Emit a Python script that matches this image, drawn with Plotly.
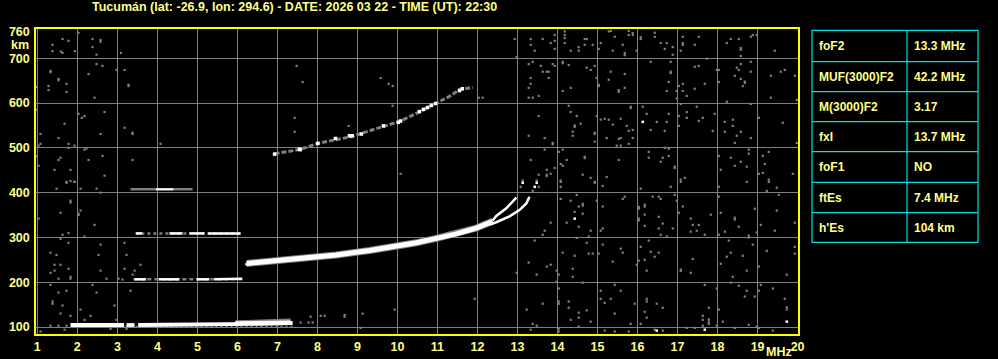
import plotly.graph_objects as go

TITLE = "Tucumán (lat: -26.9, lon: 294.6) - DATE: 2026 03 22 - TIME (UT): 22:30"
x_ticks = list(range(1, 21))
y_ticks = [100, 200, 300, 400, 500, 600, 700, 760]
y_grid = [100, 200, 300, 400, 500, 600, 700]

table_labels = ["foF2", "MUF(3000)F2", "M(3000)F2", "fxI", "foF1", "ftEs", "h'Es"]
table_values = ["13.3 MHz", "42.2 MHz", "3.17", "13.7 MHz", "NO", "7.4 MHz", "104 km"]

# Es layer traces (segments separated by None)
es1_f = [1.83, 3.17, None, 3.23, 3.43, None, 3.52, 5.90, 6.6, 7.38]
es1_h = [104.5, 104.5, None, 104.5, 104.5, None, 104.5, 105, 107, 109]
es1_fringe_f = [5.95, 6.5, 7.0, 7.33]
es1_fringe_h = [111, 112, 113, 115]
es2_f = [3.43, 3.72, None, 4.03, 4.55, None, 4.98, 5.30, None, 5.42, 6.12]
es2_h = [206.5, 206.5, None, 206.5, 206.5, None, 206.5, 206.5, None, 206.5, 207.5]
es3_f = [3.47, 3.62, None, 4.30, 4.63, None, 4.80, 5.18, None, 5.27, 6.08]
es3_h = [309, 309, None, 309, 309, None, 309, 309, None, 309, 309]
es4_f = [3.97, 4.40]
es4_h = [407.5, 407.5]
es4_gray_f = [3.33, 4.88]
es4_gray_h = [407.5, 407.5]

# F2 trace
f2_f = [6.23, 6.6, 7.22, 7.8, 8.47, 9.30, 9.97, 10.47, 10.97, 11.47, 11.97, 12.38]
f2_h = [242, 245, 250, 255, 261, 271, 280, 288, 298, 308, 321, 336]
f2o_f = [12.38, 12.47, 12.72, 12.88, 12.97]
f2o_h = [338, 348, 365, 379, 389]
f2x_f = [12.30, 12.47, 12.80, 13.05, 13.22, 13.30]
f2x_h = [329, 334, 347, 361, 376, 391]

# second-hop F trace
f2b_f = [6.93, 7.55, 8.01, 8.47, 8.84, 9.30, 9.63, 10.05, 10.43, 10.80, 11.05, 11.30, 11.55, 11.72, 11.88]
f2b_h = [487, 496, 510, 519, 525, 538, 548, 559, 575, 592, 603, 615, 630, 633, 635]
f2b_white_f = [6.93, 7.55, 7.57, 8.01, 8.45, 8.80, 8.84, 8.87, 9.10, 9.65, 10.02, 10.08, 10.55, 10.65, 10.75, 10.85, 10.95, 11.55, 11.62]
f2b_white_h = [486, 497, 496, 510, 521, 527, 527, 527, 531, 549, 557, 560, 581, 586, 590, 595, 599, 628, 632]

noise_gray = [
    (2.03,757),(1.38,730),(1.63,743),(1.78,739),(1.38,716),(1.59,715),(1.63,712),(1.94,716),(2.38,743),(2.58,741),
    (2.58,737),(2.38,725),(2.48,708),(3.09,712),(2.48,687),(2.63,683),(2.28,665),(2.98,674),(3.18,674),(1.33,672),
    (1.33,669),(1.53,654),(1.53,651),(1.28,638),(1.28,629),(1.73,643),(1.73,625),(0.98,636),(3.28,641),(3.28,638),
    (2.43,612),(2.68,580),(2.03,576),(2.11,567),(2.18,571),(1.68,554),(1.08,531),(1.53,522),(2.58,531),(3.18,545),
    (3.38,534),(3.38,531),(4.08,509),(1.08,509),(1.03,505),(1.78,509),(1.78,500),(1.93,505),(2.23,499),(2.18,496),
    (0.98,481),(1.58,478),(1.53,473),(1.03,460),(2.28,473),(2.63,482),(3.38,473),(1.43,451),(1.83,451),(2.68,438),
    (1.73,424),(1.83,426),(1.93,424),(0.98,585),(7.48,683),(7.63,647),(7.43,567),(7.43,536),(8.78,549),(9.58,656),
    (9.78,643),(9.88,638),(9.88,594),(10.08,442),(12.03,612),(12.13,612),
    (12.93,743),(12.98,703),(13.33,743),(13.63,743),(13.93,752),(14.18,760),(14.18,752),(14.18,745),(13.93,739),(13.83,734),
    (13.33,730),(13.43,717),(13.93,721),(14.18,734),(14.33,717),(14.53,725),(14.53,717),(14.68,743),(14.73,743),(14.68,730),
    (14.88,730),(15.03,721),(15.08,734),(15.28,760),(15.33,761),(15.43,748),(15.63,730),(15.68,712),(15.68,707),(15.38,717),
    (15.78,761),(15.78,752),(15.88,756),(15.88,752),(15.98,717),(16.08,747),(16.08,743),(16.43,757),(16.43,748),(16.58,734),(16.68,721),
    (16.73,734),(16.88,725),(16.88,708),(17.13,748),(17.13,734),(17.13,730),(17.43,730),(17.53,748),(17.08,717),(18.23,734),
    (18.33,743),(18.53,743),(18.58,723),(18.58,719),(18.58,705),(18.83,748),(18.88,752),(18.98,752),(19.43,717),(13.28,687),
    (13.38,692),(13.58,683),(13.63,670),(13.73,670),(13.78,670),(13.78,656),(13.88,687),(13.93,683),(13.33,656),(13.33,643),
    (13.28,634),(13.53,616),(13.38,612),(13.28,612),(14.13,692),(14.13,689),(14.28,685),(14.13,627),(14.33,634),(14.73,679),
    (14.83,674),(14.93,683),(14.98,656),(15.03,641),(15.03,638),(15.28,652),(15.33,670),(15.53,629),(15.53,625),(15.68,665),(15.68,634),
    (16.33,692),(16.83,692),(16.83,667),(16.83,670),(16.78,647),(16.73,627),(16.98,627),(16.98,610),(17.03,638),(17.13,643),(17.13,627),
    (17.23,616),(17.43,681),(17.53,683),(17.43,632),(17.68,643),(17.73,699),(17.98,674),(18.03,674),(18.03,647),(18.23,603),
    (18.43,661),(18.48,679),(18.53,674),(18.58,687),(18.58,654),(18.68,645),(18.68,648),(18.63,638),(18.83,692),(18.83,670),(19.33,661),
    (19.33,612),(19.58,670),(19.68,674),(19.93,661),(19.98,607),(18.83,598),(13.53,571),(13.28,527),(13.68,522),(13.88,511),
    (13.88,508),(14.28,594),(14.33,580),(14.48,571),(14.58,554),(14.43,547),(14.43,550),(14.38,536),(14.38,527),(14.93,534),(14.93,531),(14.93,514),
    (14.98,571),(15.08,563),(15.18,565),(15.28,563),(15.38,552),(15.58,565),(15.73,549),(15.78,538),(15.88,540),(15.83,592),
    (15.83,589),(15.23,522),(15.53,520),(15.58,522),(15.88,522),(15.78,509),(15.48,505),(15.58,505),(16.13,592),(16.23,576),
    (16.33,540),(16.48,558),(16.68,538),(16.73,558),(16.78,576),(17.03,571),(17.03,549),(17.08,598),(17.23,580),(17.23,567),
    (17.48,592),(17.53,560),(17.63,567),(17.88,538),(17.93,576),(18.18,558),(18.18,536),(18.38,563),(18.38,549),(18.48,527),
    (18.58,536),(18.83,522),(18.43,511),(19.03,567),(19.63,556),(19.98,511),(13.68,496),(13.33,473),(14.13,496),(14.03,491),
    (14.08,464),(14.13,460),(14.23,473),(14.68,480),(14.68,477),(13.93,455),(13.73,451),(13.83,442),(13.53,440),(13.73,440),(13.73,437),
    (13.13,427),(13.48,427),(14.08,427),(14.63,440),(14.83,433),(14.93,424),(15.23,435),(15.53,473),(16.28,491),(16.28,478),
    (16.63,478),(16.68,500),(16.78,498),(16.78,482),(16.58,469),(16.93,458),(16.93,455),(17.08,429),(17.18,433),(18.03,482),(18.33,478),
    (18.08,451),(18.43,460),(18.58,469),(18.78,496),(18.78,487),(18.73,458),(19.13,482),(19.28,491),(19.18,464),(19.13,444),
    (19.03,442),(19.28,429),(19.88,442),
    (1.73,422),(1.93,424),(1.48,409),(2.08,409),(2.48,409),(2.58,400),(1.83,382),(1.83,378),(1.58,355),(2.03,353),
    (2.03,350),(2.08,360),(1.03,342),(2.43,328),(1.78,310),(1.63,306),(2.18,302),(1.58,297),(1.78,288),(2.58,284),(3.18,288),
    (1.33,266),(1.48,261),(2.53,261),(3.23,261),(1.43,239),(1.58,239),(1.78,230),(1.43,226),(1.33,221),(2.58,226),
    (3.18,230),(3.43,226),(3.58,239),(1.83,212),(1.83,208),(1.53,208),(2.73,208),(3.03,208),(3.13,206),(3.38,217),(1.33,194),
    (1.73,181),(1.53,177),(2.38,194),(2.48,177),(3.33,181),(1.38,157),(1.38,152),(1.63,148),(2.08,139),(2.93,148),(1.58,130),
    (1.83,125),(2.18,116),(2.33,125),(2.98,116),(1.33,103),(1.53,103),(1.73,103),(1.08,90),(1.68,94),(3.23,96),
    (2.83,96),(9.93,139),(9.13,130),(8.68,127),(8.68,123),(8.18,125),(8.08,125),(7.83,123),(7.78,110),(7.88,110),(7.58,110),
    (9.08,98),
    (14.08,424),(14.08,413),(15.13,415),(14.93,422),(16.08,409),(16.83,413),(17.08,424),(18.03,413),(18.73,424),(19.28,424),
    (19.48,411),(19.23,404),(19.53,395),(14.08,386),(14.33,382),(14.48,395),(14.63,375),(14.63,371),(14.53,369),(14.43,357),(14.63,353),
    (14.23,333),(14.98,382),(15.13,369),(15.68,391),(15.63,386),(16.03,368),(16.03,364),(16.18,373),(16.18,369),(16.38,391),(16.58,386),
    (16.53,391),(16.93,395),(16.98,382),(17.13,369),(17.03,355),(16.18,351),(16.03,342),(16.03,338),(16.18,326),(16.53,346),
    (16.63,331),(16.88,320),(16.53,320),(16.58,306),(16.73,302),(17.33,342),(17.38,328),(17.53,328),(17.33,313),(17.48,315),
    (17.68,306),(17.83,351),(18.03,391),(18.08,355),(18.03,306),(18.18,313),(18.43,344),(18.43,340),(18.53,324),(18.93,364),(19.08,328),
    (19.48,360),(19.43,315),(19.93,333),(18.98,311),(18.78,304),(18.78,300),(13.83,333),(13.68,315),(13.63,306),(13.43,293),(13.28,244),
    (12.98,221),(13.73,235),(13.83,239),(13.48,217),(13.98,226),(14.03,217),(14.13,266),(14.43,259),(14.38,230),(14.38,212),
    (14.48,299),(14.53,324),(14.73,288),(14.78,302),(14.83,315),(15.08,315),(15.13,320),(14.78,264),(14.88,264),(15.03,264),
    (15.13,284),(15.58,275),(15.63,266),(15.38,246),(16.03,248),(16.18,250),(15.98,239),(16.08,279),(16.28,293),(16.33,268),
    (16.43,257),(16.53,266),(16.23,226),(17.38,252),(17.08,228),(17.08,225),(17.33,221),(18.08,241),(18.23,257),(18.33,266),(18.28,293),
    (18.63,259),(18.73,226),(19.23,270),(19.03,235),(18.88,284),(19.93,279),(19.93,264),(19.73,217),(18.38,212),(14.03,186),
    (13.98,201),(14.63,199),(15.08,181),(15.33,163),(15.18,154),(15.08,163),(15.43,194),(15.58,181),(16.23,163),(16.23,157),
    (16.48,152),(16.63,143),(15.93,152),(15.43,130),(14.03,157),(14.03,152),(14.28,157),(14.28,143),(14.53,132),(14.53,121),(14.73,137),
    (14.33,116),(14.83,112),(14.53,101),(13.23,139),(13.38,107),(13.48,103),(13.33,94),(13.63,152),(11.93,163),(14.03,96),(14.03,90),
    (15.18,92),(15.43,90),(15.78,90),(15.83,107),(16.08,107),(16.23,121),(16.18,134),(16.43,94),(16.63,92),(17.23,98),
    (17.43,98),(17.63,103),(17.63,125),(17.63,116),(17.78,143),(17.78,117),(17.78,112),(17.78,107),(17.98,103),(18.03,139),(18.13,112),
    (18.43,98),(18.78,105),(18.98,101),(19.03,98),(19.38,92),(19.73,144),(19.73,139),(19.68,163),(18.93,168),(19.03,181),(19.08,194),
    (19.38,186),(18.73,181),(18.68,168),(18.53,192),(18.33,199),(17.68,194),(17.98,186),(13.08,413),(13.53,413),(13.38,404),
]
noise_white = [(16.13,558),(14.43,342),(16.48,92),(17.68,94),(19.73,112),(13.13,422),(13.48,422),(13.43,413),(6.23,240)]

TXT = "#ffff88"
YEL = "#ffff00"
GRID = "#808080"
GRAY = "#808080"
CYAN = "#00e0e0"
FONT = "Liberation Sans"

fig = go.Figure()

def add_line(fx, hy, color, width, dash=None):
    fig.add_trace(go.Scatter(x=fx, y=hy, mode="lines", connectgaps=False,
                             line=dict(color=color, width=width, dash=dash),
                             hoverinfo="skip", showlegend=False))

def add_pts(pts, color, size):
    fig.add_trace(go.Scatter(x=[p[0] for p in pts], y=[p[1] for p in pts], mode="markers",
                             marker=dict(symbol="square", size=size, color=color, line=dict(width=0)),
                             hoverinfo="skip", showlegend=False))

add_pts(noise_gray, GRAY, 2.2)

# Es traces
add_line([1.83, 7.4], [101, 101], GRAY, 1.5, "2px,3px")
add_line(es1_fringe_f, es1_fringe_h, GRAY, 3.5)
add_line(es1_f, es1_h, "white", 3.8)
add_line([es1_fringe_f[0], es1_fringe_f[-1]], [110, 112], "white", 2.5)
add_line([3.40, 6.20], [206.5, 206.5], GRAY, 2.5, "4px,3px")
add_line(es2_f, es2_h, "white", 2.5)
add_line([3.45, 6.10], [309, 309], GRAY, 2.5, "3px,3px")
add_line(es3_f, es3_h, "white", 2.5)
add_line(es4_gray_f, es4_gray_h, GRAY, 2.5)
add_line(es4_f, es4_h, "white", 2)

# F traces
add_line(f2_f, f2_h, GRAY, 7)
add_line(f2_f, f2_h, "white", 5)
add_line(f2o_f, f2o_h, "white", 2.5)
add_line(f2x_f, f2x_h, "white", 2.5)
add_line(f2b_f, f2b_h, GRAY, 3, "5px,2px")
add_pts(list(zip(f2b_white_f, f2b_white_h)), "white", 3.5)
add_pts(noise_white, "white", 2.5)

fig.update_layout(
    width=998, height=359,
    margin=dict(l=36, r=200, t=29, b=25, autoexpand=False),
    paper_bgcolor="black", plot_bgcolor="black",
    font=dict(family=FONT, color=TXT, size=12, weight="bold"),
    showlegend=False,
)
fig.update_xaxes(
    range=[0.967, 20.01], tickvals=x_ticks, ticktext=[str(v) for v in x_ticks],
    showgrid=True, gridcolor=GRID, gridwidth=1, zeroline=False, automargin=False,
    showline=True, linecolor=YEL, linewidth=1.5, mirror=True,
    ticks="",
    tickfont=dict(family=FONT, color=TXT, size=12.5, weight="bold"),
)
fig.update_yaxes(
    range=[84.4, 765.4], tickvals=y_ticks, ticktext=[str(v) for v in y_ticks],
    showgrid=False, zeroline=False, automargin=False,
    minor=dict(tickvals=y_grid, showgrid=True, gridcolor=GRID, gridwidth=1, ticklen=0),
    showline=True, linecolor=YEL, linewidth=1.5, mirror=True,
    ticks="outside", ticklen=2, tickcolor="black",
    tickfont=dict(family=FONT, color=TXT, size=12.5, weight="bold"),
)

# title
fig.add_annotation(text=TITLE, xref="paper", yref="paper", x=0.339, y=1.073,
                   xanchor="center", yanchor="middle", showarrow=False,
                   font=dict(family=FONT, color=TXT, size=12.5, weight="bold"))
# km label
fig.add_annotation(text="km", xref="paper", yref="y", x=-0.021, y=729,
                   xanchor="center", yanchor="middle", showarrow=False,
                   font=dict(family=FONT, color=TXT, size=12.5, weight="bold"))
# MHz label
fig.add_annotation(text="MHz", xref="x", yref="paper", x=19.53, y=-0.06,
                   xanchor="center", yanchor="middle", showarrow=False,
                   font=dict(family=FONT, color=TXT, size=12.5, weight="bold"))

# parameter table (pixel -> paper conversion)
def px2x(px):
    return (px - 36) / 762.0

def py2y(py):
    return (334 - py) / 305.0

row_edges = [30.3, 61.7, 91.7, 121.7, 151.7, 182.3, 212.7, 242.3]
tx0, tx1, tx2 = 812, 907, 978
fig.add_shape(type="rect", xref="paper", yref="paper",
              x0=px2x(tx0), x1=px2x(tx2), y0=py2y(row_edges[-1]), y1=py2y(row_edges[0]),
              line=dict(color=CYAN, width=1.2), fillcolor="rgba(0,0,0,0)")
fig.add_shape(type="line", xref="paper", yref="paper",
              x0=px2x(tx1), x1=px2x(tx1), y0=py2y(row_edges[-1]), y1=py2y(row_edges[0]),
              line=dict(color=CYAN, width=1.2))
for e in row_edges[1:-1]:
    fig.add_shape(type="line", xref="paper", yref="paper",
                  x0=px2x(tx0), x1=px2x(tx2), y0=py2y(e), y1=py2y(e),
                  line=dict(color=CYAN, width=1.2))
for i, (lab, val) in enumerate(zip(table_labels, table_values)):
    yc = py2y((row_edges[i] + row_edges[i + 1]) / 2)
    fig.add_annotation(text=lab, xref="paper", yref="paper", x=px2x(tx0 + 5), y=yc,
                       xanchor="left", yanchor="middle", showarrow=False,
                       font=dict(family=FONT, color=TXT, size=12, weight="bold"))
    fig.add_annotation(text=val, xref="paper", yref="paper", x=px2x(tx1 + 5), y=yc,
                       xanchor="left", yanchor="middle", showarrow=False,
                       font=dict(family=FONT, color=TXT, size=12, weight="bold"))

fig.write_html("out.html")
